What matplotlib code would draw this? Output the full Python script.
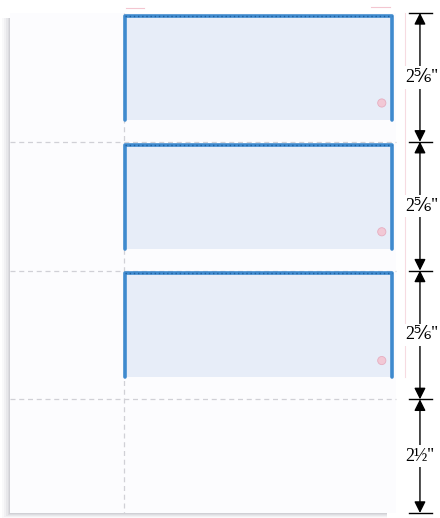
import matplotlib
matplotlib.use("Agg")
import matplotlib.pyplot as plt
from matplotlib.patches import Rectangle, Circle

# ---- data (inches) ----
page_width = 8.5
section_heights = [2 + 5/6, 2 + 5/6, 2 + 5/6, 2.5]
section_labels = ["2⅚''", "2⅚''", "2⅚''", "2½''"]
has_check = [True, True, True, False]
stub_width = 2.5
check_right = 8.43
check_top_gap = 0.04
check_height = 2.31

S = 45.45  # px per inch
fig = plt.figure(figsize=(4.4, 5.18), dpi=100)
ax = fig.add_axes([0, 0, 1, 1])
ax.set_xlim(-10 / S, 430 / S)
ax.set_ylim(505 / S, -13 / S)
ax.axis("off")
fig.patch.set_facecolor("white")

page_h = sum(section_heights)

# shadow
for dx, a in [(0.17, 0.04), (0.13, 0.06), (0.09, 0.08), (0.05, 0.10), (0.02, 0.12)]:
    ax.add_patch(Rectangle((-dx, 0.1), page_width - 0.2 + dx, page_h + dx * 0.7 - 0.1,
                           facecolor="#7c7c8a", alpha=a, edgecolor="none", zorder=1))
ax.add_patch(Rectangle((0, 0), page_width, page_h, facecolor="#fcfcfe",
                       edgecolor="none", zorder=2))

# perforation lines
bounds = [0]
for h in section_heights:
    bounds.append(bounds[-1] + h)
ax.plot([stub_width, stub_width], [0, page_h], color="#d0d0d6", lw=0.9,
        ls=(0, (4, 3)), zorder=3)
for b in bounds[1:-1]:
    ax.plot([0, page_width], [b, b], color="#d0d0d6", lw=0.9, ls=(0, (4, 3)), zorder=3)

# faint pink guide lines
ax.plot([8.69, 8.69], [0.0, bounds[3] - 0.5], color="#f7dbe1", lw=0.8, zorder=3)
ax.plot([2.55, 2.95], [-0.11, -0.11], color="#f3c6d0", lw=0.8, zorder=3)
ax.plot([7.95, 8.35], [-0.13, -0.13], color="#f3c6d0", lw=0.8, zorder=3)

# checks
for top, chk in zip(bounds[:-1], has_check):
    if not chk:
        continue
    y0 = top + check_top_gap
    ax.add_patch(Rectangle((stub_width, y0), check_right - stub_width, check_height,
                           facecolor="#e7edf8", edgecolor="none", zorder=4))
    kw = dict(color="#3f8ace", lw=2.6, solid_capstyle="round", zorder=5)
    ax.plot([stub_width + 0.02, stub_width + 0.02, check_right - 0.02, check_right - 0.02],
            [y0 + check_height, y0 + 0.02, y0 + 0.02, y0 + check_height], **kw)
    ax.plot([stub_width + 0.02, check_right - 0.02], [y0 + 0.02, y0 + 0.02],
            color="#1f5f9e", lw=1.0, ls=(0, (1, 2)), zorder=6)
    ax.add_patch(Circle((8.18, top + 1.98), 0.09, facecolor="#f2c8d5",
                        edgecolor="#e6adc0", lw=0.6, zorder=6))

# dimension arrows
ax_x = 9.02
for top, bot, lab in zip(bounds[:-1], bounds[1:], section_labels):
    ax.plot([8.78, 9.29], [top, top], color="black", lw=1.0, zorder=7)
    ax.annotate("", xy=(ax_x, top), xytext=(ax_x, bot),
                arrowprops=dict(arrowstyle="<|-|>", color="black", lw=1.0,
                                mutation_scale=17, shrinkA=0, shrinkB=0), zorder=7)
    ax.text(8.70, (top + bot) / 2, lab, ha="left", va="center", fontsize=13,
            family=["Liberation Serif", "DejaVu Serif"], color="black", zorder=8,
            bbox=dict(facecolor="white", edgecolor="none", pad=2))
ax.plot([8.78, 9.29], [page_h, page_h], color="black", lw=1.0, zorder=7)

fig.savefig("out.png", dpi=100, facecolor="white")
